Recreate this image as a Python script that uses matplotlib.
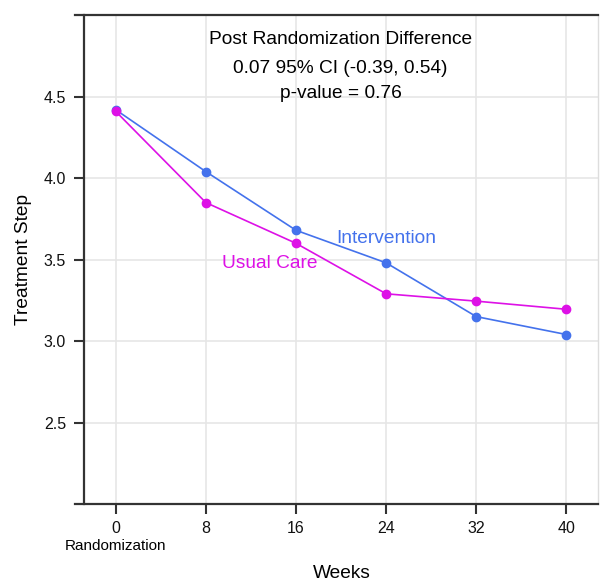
import matplotlib
matplotlib.use("Agg")
import matplotlib.pyplot as plt

plt.rcParams["font.family"] = ["Liberation Sans", "DejaVu Sans"]

weeks = [0, 8, 16, 24, 32, 40]
intervention = [4.42, 4.04, 3.68, 3.48, 3.15, 3.04]
usual_care = [4.41, 3.85, 3.60, 3.29, 3.245, 3.195]
y_ticks = [2.5, 3.0, 3.5, 4.0, 4.5]
summary = ["Post Randomization Difference",
           "0.07 95% CI (-0.39, 0.54)",
           "p-value = 0.76"]

blue = "#4472EC"
magenta = "#DD11E6"
dark = "#333333"

fig = plt.figure(figsize=(6.01, 5.86), dpi=100)
ax = fig.add_axes([0.14, 0.14, 0.855, 0.834])

ax.plot(weeks, intervention, color=blue, lw=1.2, marker="o", ms=6, zorder=3)
ax.plot(weeks, usual_care, color=magenta, lw=1.2, marker="o", ms=6, zorder=4)

ax.set_xlim(-2.8, 42.8)
ax.set_ylim(2.0, 5.0)
ax.set_xticks(weeks)
ax.set_yticks(y_ticks)
ax.set_yticklabels([f"{v:.1f}" for v in y_ticks])
ax.grid(True, color="#E6E6E6", lw=1.2, zorder=0)
ax.set_axisbelow(True)

for s in ["left", "bottom", "top"]:
    ax.spines[s].set_color(dark)
    ax.spines[s].set_linewidth(1.6)
# box lines run a little past the y axis, as in the original
ax.spines["bottom"].set_bounds(-3.6, 42.8)
ax.spines["top"].set_bounds(-3.6, 42.8)
ax.spines["right"].set_color("#DDDDDD")
ax.spines["right"].set_linewidth(1.0)

ax.tick_params(axis="both", direction="out", length=7, width=1.5,
               color=dark, labelsize=11.5, labelcolor="#111111")
ax.tick_params(axis="x", pad=5)
ax.tick_params(axis="y", pad=6)

ax.set_ylabel("Treatment Step", fontsize=13.8)
ax.yaxis.set_label_coords(-0.102, 0.5)
fig.text(0.569, 0.013, "Weeks", ha="center", va="baseline", fontsize=13.8)

ax.text(weeks[0], -0.071, "Randomization", transform=ax.get_xaxis_transform(),
        ha="center", va="top", fontsize=11)

for i, line in enumerate(summary):
    ax.text(0.499, [0.9405, 0.882, 0.83][i], line, transform=ax.transAxes,
            ha="center", va="baseline", fontsize=13.8)

ax.text(19.6, 3.60, "Intervention", color=blue, fontsize=13.8, va="baseline")
ax.text(9.4, 3.45, "Usual Care", color=magenta, fontsize=13.8, va="baseline")

fig.savefig("out.png", dpi=100)
